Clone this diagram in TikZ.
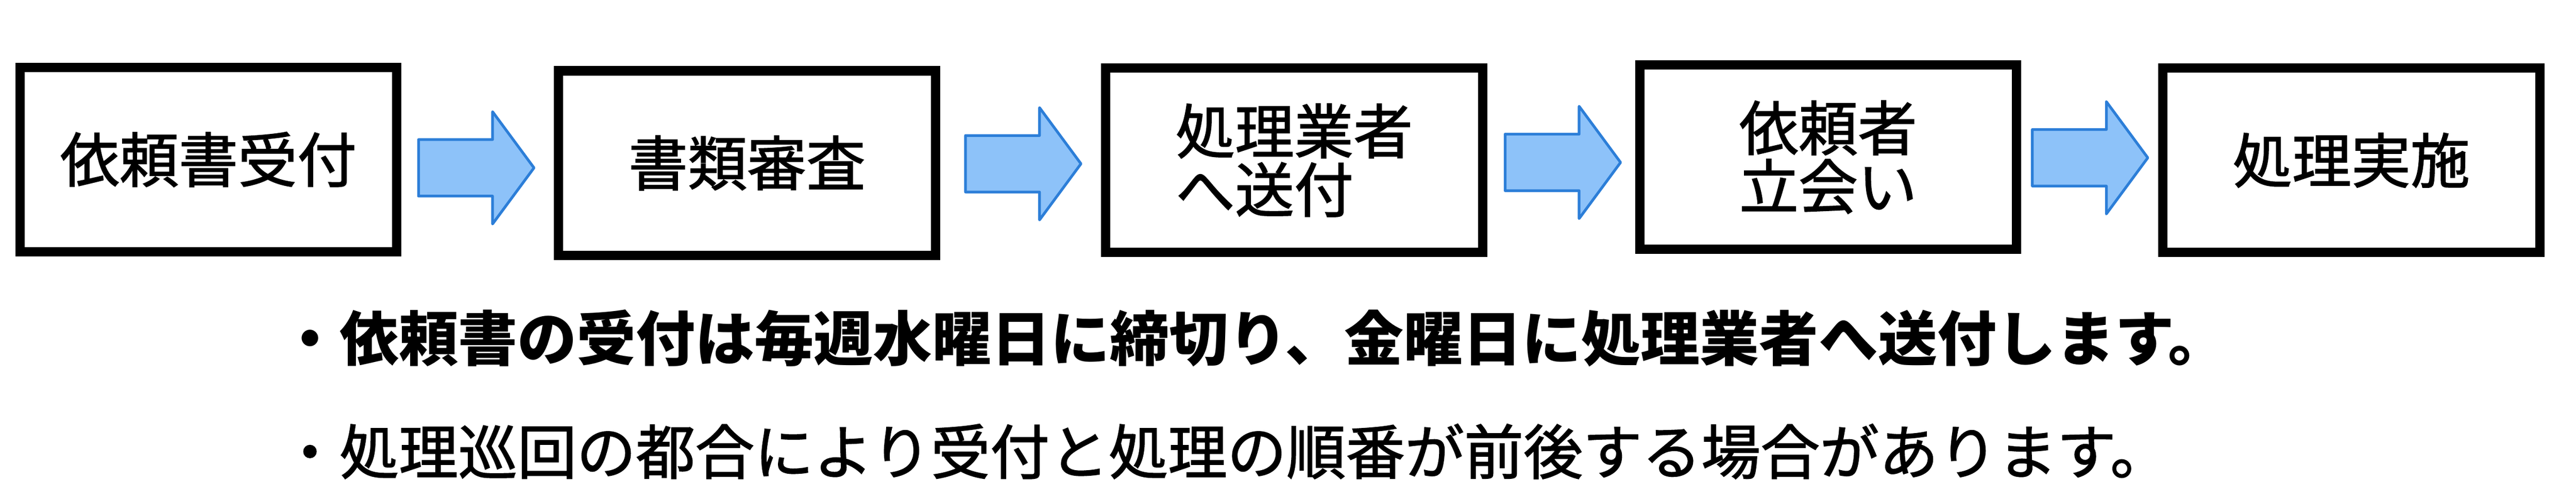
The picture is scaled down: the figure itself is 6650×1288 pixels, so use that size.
\documentclass[tikz,border=0pt]{standalone}
\usepackage{fontspec}
\setmainfont{Noto Sans CJK JP}
\newfontfamily\jpmed{Noto Sans CJK JP}[FakeBold=1.5]
\newcommand\bxfont{\jpmed\fontsize{43.5pt}{43pt}\selectfont}
\newcommand\ntfont{\jpmed\fontsize{43.5pt}{52pt}\selectfont}
\newcommand\ntbfont{\rmfamily\bfseries\fontsize{43.5pt}{52pt}\selectfont}
\definecolor{arrowfill}{RGB}{141,194,249}
\definecolor{arrowline}{RGB}{44,126,216}
\begin{document}
\begin{tikzpicture}[x=0.01cm,y=-0.01cm,
  box/.style={draw=black,line width=0.24cm,fill=white,minimum width=9.72cm,minimum height=4.76cm,inner sep=0pt,align=left,font=\bxfont},
  arrowshape/.style={draw=arrowline,fill=arrowfill,line width=0.07cm,line join=round},
  note/.style={anchor=west,inner sep=0pt,font=\ntfont},
  barrow/.pic={\draw[arrowshape] (0,-73) -- (191,-73) -- (191,-145) -- (298,0) -- (191,145) -- (191,73) -- (0,73) -- cycle;}]
\useasboundingbox[fill=white] (0,0) rectangle (6650,1288);
\node[box] (b1) at (538,412) {依頼書受付};
\node[box] (b2) at (1928.5,421) {書類審査};
\node[box] (b3) at (3341,414) {処理業者\\へ送付};
\node[box] (b4) at (4719.5,406) {依頼者\\立会い};
\node[box] (b5) at (6070,414) {処理実施};
\pic (a1) at (1080.5,433.5) {barrow};
\pic (a2) at (2492.5,423) {barrow};
\pic (a3) at (3885.5,419.5) {barrow};
\pic (a4) at (5246.5,407.5) {barrow};
\node[note,font=\ntbfont] (n1) at (723,874) {・依頼書の受付は毎週水曜日に締切り、金曜日に処理業者へ送付します。};
\node[note] (n2) at (723,1166) {・処理巡回の都合により受付と処理の順番が前後する場合があります。};
\end{tikzpicture}
\end{document}
